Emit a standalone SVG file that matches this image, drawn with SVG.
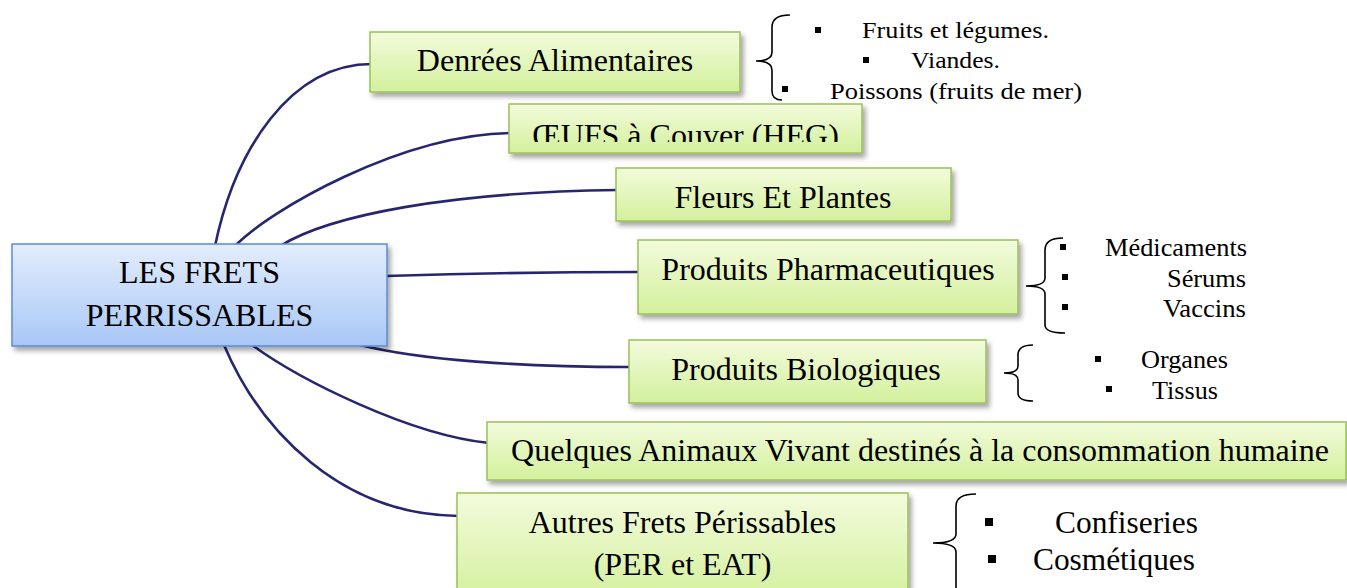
<svg xmlns="http://www.w3.org/2000/svg" width="1347" height="588" viewBox="0 0 1347 588">
<defs>
<linearGradient id="gGreen" x1="0" y1="0" x2="0" y2="1">
<stop offset="0" stop-color="#f3fbdc"/>
<stop offset="1" stop-color="#d3f09c"/>
</linearGradient>
<linearGradient id="gBlue" x1="0" y1="0" x2="0" y2="1">
<stop offset="0" stop-color="#e3edfd"/>
<stop offset="1" stop-color="#a8c7f6"/>
</linearGradient>
<filter id="sh" x="-10%" y="-20%" width="120%" height="150%">
<feDropShadow dx="3" dy="4" stdDeviation="2.5" flood-color="#000" flood-opacity="0.35"/>
</filter>
<filter id="soft" x="-5%" y="-5%" width="110%" height="110%">
<feGaussianBlur stdDeviation="0.6"/>
</filter>
<clipPath id="clipOeufs"><rect x="509" y="104" width="353" height="38"/></clipPath>
</defs>
<style>
.gbox{fill:url(#gGreen);stroke:#9cc05a;stroke-width:1.5;filter:url(#sh)}
.bbox{fill:url(#gBlue);stroke:#5b8bd3;stroke-width:1.5;filter:url(#sh)}
.t{font-family:"Liberation Serif","Times New Roman","DejaVu Serif",serif;fill:#000;font-size:32px}
.c{text-anchor:middle}
.l{font-family:"Liberation Serif","Times New Roman","DejaVu Serif",serif;fill:#000}
.conn{fill:none;stroke:#28286f;stroke-width:2.6;stroke-linecap:round}
.brace{fill:none;stroke:#000;stroke-width:1.6}
.bul{fill:#000}
</style>
<rect width="1347" height="588" fill="#fff"/>
<g id="connectors" filter="url(#soft)">
<path class="conn" d="M215,246 C235,150 290,64 372,64"/>
<path class="conn" d="M235,246 C270,210 400,135 510,133"/>
<path class="conn" d="M280,246 C330,215 450,192 618,190"/>
<path class="conn" d="M386,276 C450,274 550,272 640,272"/>
<path class="conn" d="M360,345 C420,360 520,367 630,367"/>
<path class="conn" d="M252,345 C300,380 410,435 489,443"/>
<path class="conn" d="M224,345 C260,430 340,515 459,516"/>
</g>
<g id="node-central">
<rect class="bbox" x="12" y="244" width="375" height="102"/>
<text class="t c" x="199.5" y="283">LES FRETS</text>
<text class="t c" x="199.5" y="326">PERRISSABLES</text>
</g>
<g id="node-denrees">
<rect class="gbox" x="370" y="32" width="370" height="60"/>
<text class="t c" x="555" y="71">Denrées Alimentaires</text>
</g>
<g id="node-oeufs">
<rect class="gbox" x="509" y="104" width="353" height="49"/>
<text class="t c" x="685.5" y="146" clip-path="url(#clipOeufs)">ŒUFS à Couver (HEG)</text>
</g>
<g id="node-fleurs">
<rect class="gbox" x="616" y="168" width="335" height="53"/>
<text class="t c" x="783" y="208">Fleurs Et Plantes</text>
</g>
<g id="node-pharma">
<rect class="gbox" x="638" y="240" width="380" height="74"/>
<text class="t c" x="828" y="280">Produits Pharmaceutiques</text>
</g>
<g id="node-bio">
<rect class="gbox" x="629" y="340" width="357" height="63"/>
<text class="t c" x="806" y="380">Produits Biologiques</text>
</g>
<g id="node-animaux">
<rect class="gbox" x="487" y="422" width="859" height="58"/>
<text class="t c" x="920" y="461">Quelques Animaux Vivant destinés à la consommation humaine</text>
</g>
<g id="node-autres">
<rect class="gbox" x="457" y="493" width="451" height="110"/>
<text class="t c" x="682.5" y="533">Autres Frets Périssables</text>
<text class="t c" x="682.5" y="575">(PER et EAT)</text>
</g>
<g id="list-denrees">
<path class="brace" d="M790,15 Q772,15 772,27 L772,52 Q772,61 756,61 Q772,61 772,70 L772,91 Q772,100 782,100"/>
<rect class="bul" x="815" y="27" width="6" height="6"/>
<rect class="bul" x="863" y="57" width="6" height="6"/>
<rect class="bul" x="782" y="86" width="6" height="6"/>
<text class="l" x="862" y="38" font-size="23" textLength="187" lengthAdjust="spacingAndGlyphs">Fruits et légumes.</text>
<text class="l" x="911" y="68" font-size="23" textLength="89" lengthAdjust="spacingAndGlyphs">Viandes.</text>
<text class="l" x="830" y="99" font-size="23" textLength="252" lengthAdjust="spacingAndGlyphs">Poissons (fruits de mer)</text>
</g>
<g id="list-pharma">
<path class="brace" d="M1063,238 Q1045,238 1045,250 L1045,278 Q1045,286 1026,286 Q1045,286 1045,294 L1045,325 Q1045,333 1065,333"/>
<rect class="bul" x="1060" y="244" width="6" height="6"/>
<rect class="bul" x="1062" y="274" width="6" height="6"/>
<rect class="bul" x="1062" y="304" width="6" height="6"/>
<text class="l" x="1105" y="256" font-size="25" textLength="142" lengthAdjust="spacingAndGlyphs">Médicaments</text>
<text class="l" x="1167" y="287" font-size="25" textLength="79" lengthAdjust="spacingAndGlyphs">Sérums</text>
<text class="l" x="1163" y="317" font-size="25" textLength="83" lengthAdjust="spacingAndGlyphs">Vaccins</text>
</g>
<g id="list-bio">
<path class="brace" d="M1033,345 Q1018,345 1018,355 L1018,366 Q1018,373 1004,373 Q1018,373 1018,380 L1018,393 Q1018,401 1033,401"/>
<rect class="bul" x="1095" y="356" width="6" height="6"/>
<rect class="bul" x="1106" y="386" width="6" height="6"/>
<text class="l" x="1141" y="368" font-size="25" textLength="87" lengthAdjust="spacingAndGlyphs">Organes</text>
<text class="l" x="1152" y="399" font-size="25" textLength="66" lengthAdjust="spacingAndGlyphs">Tissus</text>
</g>
<g id="list-autres">
<path class="brace" d="M976,494 Q956,494 956,506 L956,534 Q956,543 933,543 Q956,543 956,552 L956,600"/>
<rect class="bul" x="985" y="518" width="8" height="8"/>
<rect class="bul" x="988" y="555" width="8" height="8"/>
<text class="l" x="1055" y="533" font-size="31" textLength="143" lengthAdjust="spacingAndGlyphs">Confiseries</text>
<text class="l" x="1033" y="570" font-size="31" textLength="162" lengthAdjust="spacingAndGlyphs">Cosmétiques</text>
</g>
</svg>
